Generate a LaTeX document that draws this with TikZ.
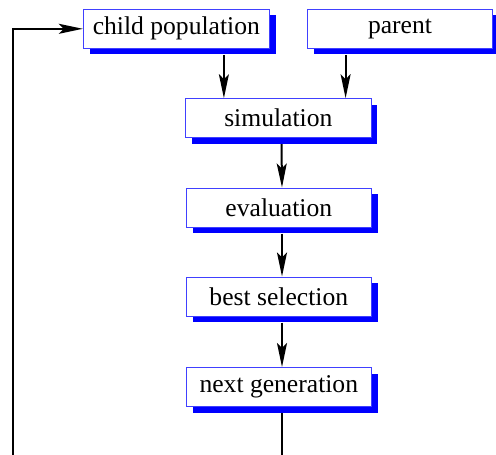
\documentclass[tikz,border=0pt]{standalone}
\usepackage{fontspec}
\setmainfont{Liberation Serif}
\usetikzlibrary{shadows,arrows.meta}
\begin{document}
\begin{tikzpicture}[x=0.5pt,y=-0.5pt,
  box/.style={draw=blue!75,line width=0.5pt,fill=white,inner sep=0pt,
    minimum height=19.5pt,
    font=\fontsize{12.8}{15}\selectfont,
    drop shadow={shadow xshift=3.2pt,shadow yshift=-3pt,fill=blue,opacity=1}},
  wide/.style={minimum width=93pt},
  arr/.style={-{Stealth[length=12pt,width=5pt,inset=2.5pt]},line width=1pt}]
\useasboundingbox (0,0) rectangle (496,454);
\node[box,wide] (child) at (176.3,28.8) {child population};
\node[box,minimum width=92.7pt] (parent) at (400,28.8) {parent};
\node[box,minimum width=92.7pt] (sim) at (278.3,118.2) {simulation};
\node[box,minimum width=92.7pt] (eval) at (278.8,207.5) {evaluation};
\node[box,minimum width=92.7pt] (best) at (278.8,296.5) {best selection};
\node[box,minimum width=92.7pt] (next) at (278.8,387) {next generation};
\path (sim.north west) ++(38.8,0) coordinate (s1);
\path (sim.north west) ++(160.5,0) coordinate (s2);
\coordinate (low) at (13,480);
\draw[arr] ([yshift=-3pt]child.south -| s1) -- (s1);
\draw[arr] ([yshift=-3pt]parent.south -| s2) -- (s2);
\draw[arr] ([xshift=1.6pt,yshift=-3pt]sim.south) -- ([xshift=1.6pt]eval.north);
\draw[arr] ([xshift=1.6pt,yshift=-3pt]eval.south) -- ([xshift=1.6pt]best.north);
\draw[arr] ([xshift=1.6pt,yshift=-3pt]best.south) -- ([xshift=1.6pt]next.north);
\draw[arr] ([xshift=1.6pt,yshift=-3pt]next.south) |- (low) |- (child.west);
\end{tikzpicture}
\end{document}
